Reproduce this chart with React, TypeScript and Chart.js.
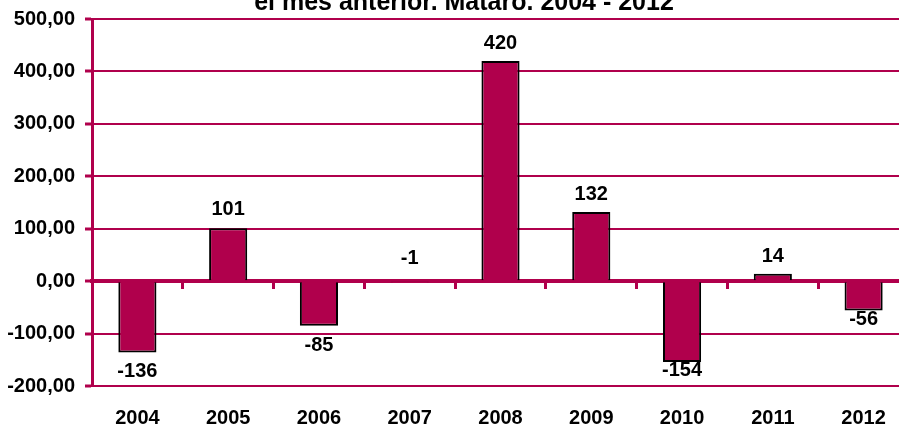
import React, { useEffect, useRef } from "react";
import { Chart, registerables } from "chart.js";

Chart.register(...registerables);

const categories = ["2004", "2005", "2006", "2007", "2008", "2009", "2010", "2011", "2012"];
const values = [-136, 101, -85, -1, 420, 132, -154, 14, -56];
const titleText = "el mes anterior. Mataró. 2004 - 2012";
const yMin = -200;
const yMax = 500;
const yStep = 100;
// vertical label offsets (px) from the bar end, as placed in the original
const labelOffsets = [19, -19, 20, -23, -17, -17, 9, -17, 9];

const CRIMSON = "#B0004C";
const FONT = "'Liberation Sans', Arial, sans-serif";

const formatY = (v: number) => v.toFixed(2).replace(".", ",");

const labelPlugin = {
  id: "barLabels",
  afterDatasetsDraw(chart: any) {
    const ctx = chart.ctx;
    const meta = chart.getDatasetMeta(0);
    ctx.save();
    ctx.font = `bold 20px ${FONT}`;
    ctx.fillStyle = "#000";
    ctx.textAlign = "center";
    ctx.textBaseline = "middle";
    meta.data.forEach((bar: any, i: number) => {
      ctx.fillText(String(values[i]), bar.x, bar.y + labelOffsets[i]);
    });
    ctx.restore();
  },
};

const titlePlugin = {
  id: "canvasTitle",
  afterDraw(chart: any) {
    const ctx = chart.ctx;
    ctx.save();
    ctx.font = `bold 25px ${FONT}`;
    ctx.fillStyle = "#000";
    ctx.textAlign = "center";
    ctx.textBaseline = "alphabetic";
    ctx.fillText(titleText, chart.width / 2, chart.chartArea.top - 9);
    ctx.restore();
  },
};

export default function App() {
  const ref = useRef<HTMLCanvasElement | null>(null);
  useEffect(() => {
    if (!ref.current) return;
    const chart = new Chart(ref.current, {
      type: "bar",
      data: {
        labels: categories,
        datasets: [
          {
            data: values,
            backgroundColor: CRIMSON,
            borderColor: "#000",
            borderWidth: 2,
            barPercentage: 0.42,
            categoryPercentage: 1,
            xAxisID: "x",
          },
        ],
      },
      options: {
        animation: false,
        responsive: true,
        maintainAspectRatio: false,
        layout: { padding: { left: 0, right: 11, top: 34, bottom: 2 } },
        plugins: {
          legend: { display: false },
          tooltip: { enabled: false },
          title: { display: false },
        },
        scales: {
          x: {
            position: "bottom",
            grid: { display: false, drawTicks: false },
            border: { display: false },
            ticks: {
              color: "#000",
              padding: 20,
              font: { family: FONT, size: 20, weight: "bold" },
              maxRotation: 0,
            },
          },
          x2: {
            type: "category",
            labels: categories,
            position: { y: 0 },
            offset: true,
            grid: {
              display: true,
              offset: true,
              drawOnChartArea: false,
              drawTicks: true,
              tickLength: 6,
              tickWidth: 3,
              tickColor: CRIMSON,
              color: CRIMSON,
            },
            border: { display: true, color: CRIMSON, width: 4 },
            ticks: { display: false },
          },
          y: {
            min: yMin,
            max: yMax,
            afterFit: (scale: any) => {
              scale.width = 84;
            },
            ticks: {
              stepSize: yStep,
              color: "#000",
              padding: 10,
              font: { family: FONT, size: 20, weight: "bold" },
              callback: (v: any) => formatY(Number(v)),
            },
            grid: {
              color: CRIMSON,
              lineWidth: 2,
              tickLength: 7,
              tickWidth: 3,
              tickColor: CRIMSON,
            },
            border: { display: true, color: CRIMSON, width: 3 },
          },
        },
      },
      plugins: [labelPlugin, titlePlugin],
    });
    return () => chart.destroy();
  }, []);

  return (
    <div
      style={{
        position: "fixed",
        left: 0,
        top: 0,
        width: 899,
        height: 428,
        overflow: "hidden",
        background: "#fff",
      }}
    >
      <div style={{ position: "absolute", left: 8, top: -15, width: 912, height: 467 }}>
        <canvas ref={ref} />
      </div>
    </div>
  );
}
